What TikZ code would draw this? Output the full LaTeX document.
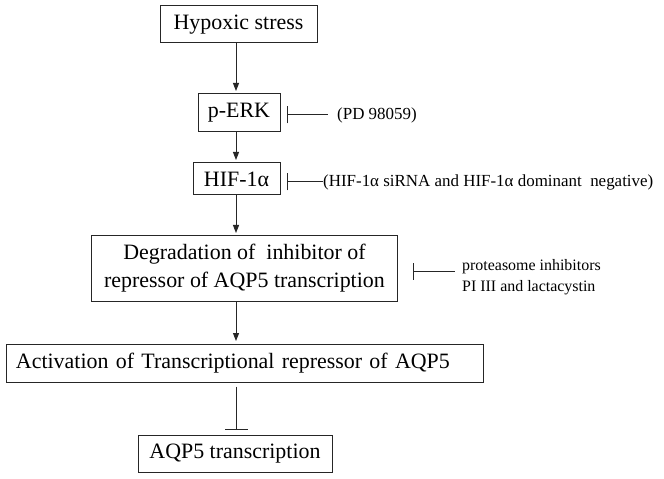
\documentclass[tikz,border=0pt]{standalone}
\usepackage{fontspec}
\setmainfont{Liberation Serif}
\usetikzlibrary{arrows.meta}
\begin{document}
\begin{tikzpicture}[x=1bp,y=-1bp,
  box/.style={draw=black!85, line width=1bp, inner sep=0pt, font=\fontsize{22}{28}\selectfont, align=center},
  link/.style={draw=black!85, line width=1bp, -{Triangle[length=8bp,width=6bp]}, shorten >=2.5bp},
  block/.style={draw=black!85, line width=1bp, {Bar[width=17bp]}-},
  note/.style={inner sep=0pt, anchor=west, font=\fontsize{17}{21}\selectfont, align=left}]
\useasboundingbox (0,0) rectangle (664,479);
\fill[white] (0,0) rectangle (664,479);
\node[box, minimum width=157bp, minimum height=37bp] (hyp) at (238.5,24.5) {Hypoxic stress};
\node[box, minimum width=82bp, minimum height=38bp] (perk) at (239,113) {p-ERK};
\node[box, minimum width=87bp, minimum height=32bp] (hif) at (236.5,179) {HIF-1α};
\node[box, minimum width=305bp, minimum height=65bp] (deg) at (244.5,268.5) {Degradation of \ inhibitor of\\repressor of AQP5 transcription};
\node[box, minimum height=38bp, text width=458bp, inner xsep=9bp, align=left] (act) at (245,363) {Activation of Transcriptional repressor of AQP5};
\node[box, minimum width=194bp, minimum height=37bp] (aqp) at (235,453.5) {AQP5 transcription};
\coordinate (ax) at (236,0);
\draw[link] (hyp.south -| ax) -- (perk.north -| ax);
\draw[link] (perk.south -| ax) -- (hif.north -| ax);
\draw[link] (hif.south -| ax) -- (deg.north -| ax);
\draw[link] (deg.south -| ax) -- (act.north -| ax);
\draw[draw=black!85, line width=1bp, -{Bar[width=23bp]}, shorten <=4bp, shorten >=5bp] (act.south -| ax) -- (aqp.north -| ax);
% inhibitors
\node[note] (pd) at (337,115) {(PD 98059)};
\coordinate (pdbar) at (287,115);
\coordinate (pdend) at (328,115);
\draw[block] (pdbar) -- (pdend);
\node[note] (hifi) at (323,182) {(HIF-1α siRNA and HIF-1α dominant \ negative)};
\coordinate (hifbar) at (287,182);
\draw[block] (hifbar) -- (hifi.west);
\node[note, font=\fontsize{16}{21}\selectfont] (prot) at (462,277.5) {proteasome inhibitors\\PI III and lactacystin};
\coordinate (protbar) at (413,271);
\coordinate (protend) at (455,271);
\draw[block] (protbar) -- (protend);
\end{tikzpicture}
\end{document}
